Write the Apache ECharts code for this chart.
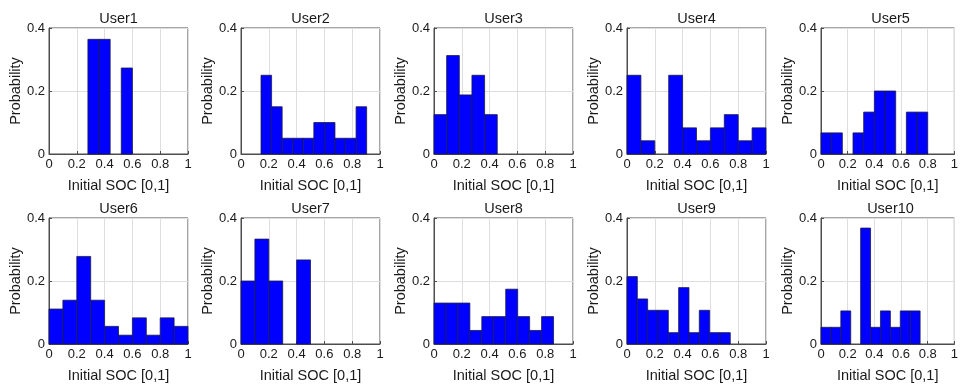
<!DOCTYPE html>
<html>
<head>
<meta charset="utf-8">
<script src="https://cdn.jsdelivr.net/npm/echarts@6/dist/echarts.min.js"></script>
<style>
html,body{margin:0;padding:0;background:#fff;}
#chart{width:961px;height:387px;}
</style>
</head>
<body>
<div id="chart"></div>
<script>
const users = ['User1','User2','User3','User4','User5','User6','User7','User8','User9','User10'];
const xTicks = [0, 0.2, 0.4, 0.6, 0.8, 1];
const yTicks = [0, 0.2, 0.4];
// histogram bin start and bin width per user
const binStart = [0.28, 0.144, 0, 0, 0, 0, 0, 0, 0, 0];
const binWidth = [0.08, 0.076, 0.091, 0.1, 0.08, 0.1, 0.1, 0.086, 0.0743, 0.0743];
// probability per bin
const pUser1  = [0.364, 0.364, 0, 0.273];
const pUser2  = [0.25, 0.15, 0.05, 0.05, 0.05, 0.10, 0.10, 0.05, 0.05, 0.15];
const pUser3  = [0.125, 0.3125, 0.1875, 0.25, 0.125];
const pUser4  = [0.25, 0.042, 0, 0.25, 0.083, 0.042, 0.083, 0.125, 0.042, 0.083];
const pUser5  = [0.067, 0.067, 0, 0.067, 0.133, 0.2, 0.2, 0, 0.133, 0.133];
const pUser6  = [0.111, 0.139, 0.278, 0.139, 0.056, 0.028, 0.083, 0.028, 0.083, 0.056];
const pUser7  = [0.2, 0.333, 0.2, 0, 0.267];
const pUser8  = [0.130, 0.130, 0.130, 0.043, 0.087, 0.087, 0.174, 0.087, 0.043, 0.087];
const pUser9  = [0.214, 0.143, 0.107, 0.107, 0.036, 0.179, 0.036, 0.107, 0.036, 0.036];
const pUser10 = [0.053, 0.053, 0.105, 0, 0.368, 0.053, 0.105, 0.053, 0.105, 0.105];
const probs = [pUser1, pUser2, pUser3, pUser4, pUser5, pUser6, pUser7, pUser8, pUser9, pUser10];

const gridLefts = [49, 241, 434, 627, 821];
const gridTops = [28, 218];
const gW = 139, gH = 126;
const FONT = '"Liberation Sans", Arial, sans-serif';
const axisColor = '#4d4d4d';
const textColor = '#1a1a1a';

const option = {
  animation: false,
  backgroundColor: '#ffffff',
  title: [], grid: [], xAxis: [], yAxis: [], series: []
};

users.forEach((name, i) => {
  const col = i % 5, row = Math.floor(i / 5);
  const left = gridLefts[col], top = gridTops[row];
  option.title.push({
    text: name, left: left + gW / 2, top: top - 17, textAlign: 'center', padding: 0,
    textStyle: { fontFamily: FONT, fontSize: 14.5, fontWeight: 'normal', color: textColor }
  });
  option.grid.push({
    left: left, top: top, width: gW, height: gH, show: true,
    borderColor: axisColor, borderWidth: 1, backgroundColor: '#ffffff'
  });
  option.xAxis.push({
    type: 'value', gridIndex: i, min: xTicks[0], max: xTicks[xTicks.length - 1],
    interval: xTicks[1] - xTicks[0],
    name: 'Initial SOC [0,1]', nameLocation: 'middle', nameGap: 24,
    nameTextStyle: { fontFamily: FONT, fontSize: 14.5, color: textColor },
    axisLine: { show: true, lineStyle: { color: axisColor, width: 1 } },
    axisTick: { show: true, inside: true, length: 3, lineStyle: { color: axisColor } },
    axisLabel: { margin: 4, fontFamily: FONT, fontSize: 13, color: textColor },
    splitLine: { show: true, lineStyle: { color: '#dedede', width: 1 } }
  });
  option.yAxis.push({
    type: 'value', gridIndex: i, min: yTicks[0], max: yTicks[yTicks.length - 1],
    interval: yTicks[1] - yTicks[0],
    name: 'Probability', nameLocation: 'middle', nameGap: 26,
    nameTextStyle: { fontFamily: FONT, fontSize: 14.5, color: textColor },
    axisLine: { show: true, lineStyle: { color: axisColor, width: 1 } },
    axisTick: { show: true, inside: true, length: 3, lineStyle: { color: axisColor } },
    axisLabel: { margin: 4, fontFamily: FONT, fontSize: 13, color: textColor },
    splitLine: { show: true, lineStyle: { color: '#dedede', width: 1 } }
  });
  const data = probs[i].map((v, k) => [binStart[i] + k * binWidth[i], binStart[i] + (k + 1) * binWidth[i], v]);
  option.series.push({
    type: 'custom', xAxisIndex: i, yAxisIndex: i, data: data,
    encode: { x: [0, 1], y: 2 },
    renderItem: function (params, api) {
      const x0 = api.value(0), x1 = api.value(1), y = api.value(2);
      if (!(y > 0)) return null;
      const p0 = api.coord([x0, y]);
      const p1 = api.coord([x1, 0]);
      return {
        type: 'rect',
        shape: { x: p0[0], y: p0[1], width: p1[0] - p0[0], height: p1[1] - p0[1] },
        style: { fill: '#0000ff', stroke: '#1a1a4d', lineWidth: 0.8 }
      };
    }
  });
});

const chart = echarts.init(document.getElementById('chart'), null, { renderer: 'canvas' });
chart.setOption(option);
</script>
</body>
</html>
